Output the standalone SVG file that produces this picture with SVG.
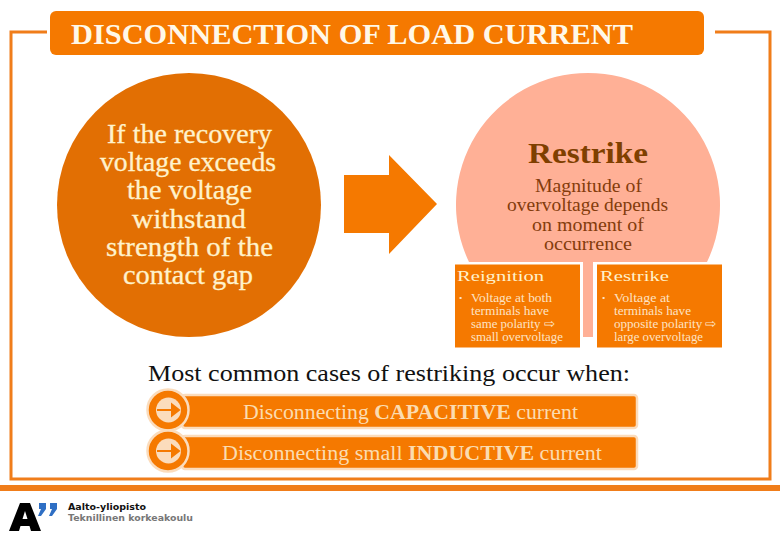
<svg xmlns="http://www.w3.org/2000/svg" width="780" height="540" viewBox="0 0 780 540">
<style>
text{font-family:"Liberation Serif","Times New Roman",serif}
.bar{fill:#f57900;stroke:#fbdcbc;stroke-width:2.500}
.circ{fill:#f57900;stroke:#fbdcbc;stroke-width:2.500}
.inner{fill:#fbdcbc}
.ar{fill:#f57900;stroke:#f57900;stroke-width:2}
.hd{fill:#fff2cc;font-size:15px}
.bd{fill:#fde3c4;font-size:12.500px}
.lc{fill:#fff2cc;font-size:27px;stroke:#fff2cc;stroke-width:.3px}
.rc{fill:#843c0c;font-size:18.500px}
.cs{fill:#fbdcb0;font-size:20px}
.box{fill:#f57900;stroke:#fff;stroke-width:2}
</style>
<rect width="780" height="540" fill="#fff"/>
<g id="frame"><path d="M47 32H11V479H770V32H715" fill="none" stroke="#f07d1a" stroke-width="3"/></g>
<g id="title"><rect x="50" y="11" width="654" height="44" rx="6" fill="#f57900"/>
<text x="71" y="44" font-size="30" font-weight="700" fill="#fff8e8" textLength="562" lengthAdjust="spacingAndGlyphs">DISCONNECTION OF LOAD CURRENT</text></g>
<g id="left-circle"><circle cx="189" cy="205" r="132" fill="#e26f03"/>
<text x="107" y="143" class="lc" textLength="165" lengthAdjust="spacingAndGlyphs">If the recovery</text>
<text x="100" y="171" class="lc" textLength="176" lengthAdjust="spacingAndGlyphs">voltage exceeds</text>
<text x="127" y="199" class="lc" textLength="125" lengthAdjust="spacingAndGlyphs">the voltage</text>
<text x="132" y="228" class="lc" textLength="114" lengthAdjust="spacingAndGlyphs">withstand</text>
<text x="106" y="256" class="lc" textLength="167" lengthAdjust="spacingAndGlyphs">strength of the</text>
<text x="123" y="284" class="lc" textLength="130" lengthAdjust="spacingAndGlyphs">contact gap</text></g>
<g id="arrow"><path d="M344 175H389V155L437 204L389 254V233H344Z" fill="#f57900"/></g>
<g id="right-circle"><path d="M469 262A132 132 0 1 1 707 262H593V337H583V262Z" fill="#ffb096"/>
<text x="528" y="163" font-size="30" font-weight="700" fill="#7f3f00" textLength="120" lengthAdjust="spacingAndGlyphs">Restrike</text>
<text x="535" y="192" class="rc" textLength="107" lengthAdjust="spacingAndGlyphs">Magnitude of</text>
<text x="507" y="211" class="rc" textLength="161" lengthAdjust="spacingAndGlyphs">overvoltage depends</text>
<text x="532" y="231" class="rc" textLength="112" lengthAdjust="spacingAndGlyphs">on moment of</text>
<text x="544" y="250" class="rc" textLength="88" lengthAdjust="spacingAndGlyphs">occurrence</text></g>
<g id="reignition"><rect x="454" y="263.500" width="127" height="85" class="box"/>
<text x="457" y="281" class="hd" textLength="87" lengthAdjust="spacingAndGlyphs">Reignition</text>
<rect x="459.500" y="297" width="2" height="2" fill="#fde3c4"/>
<text x="471" y="301.500" class="bd" textLength="81" lengthAdjust="spacingAndGlyphs">Voltage at both</text>
<text x="471" y="314.500" class="bd" textLength="78" lengthAdjust="spacingAndGlyphs">terminals have</text>
<text x="471" y="327.500" class="bd" textLength="84" lengthAdjust="spacingAndGlyphs">same polarity ⇨</text>
<text x="471" y="340.500" class="bd" textLength="92" lengthAdjust="spacingAndGlyphs">small overvoltage</text></g>
<g id="restrike"><rect x="596" y="263.500" width="127" height="85" class="box"/>
<text x="600" y="281" class="hd" textLength="69" lengthAdjust="spacingAndGlyphs">Restrike</text>
<rect x="602.500" y="297" width="2" height="2" fill="#fde3c4"/>
<text x="614" y="301.500" class="bd" textLength="56" lengthAdjust="spacingAndGlyphs">Voltage  at</text>
<text x="614" y="314.500" class="bd" textLength="77" lengthAdjust="spacingAndGlyphs">terminals have</text>
<text x="614" y="327.500" class="bd" textLength="103" lengthAdjust="spacingAndGlyphs">opposite polarity ⇨</text>
<text x="614" y="340.500" class="bd" textLength="89" lengthAdjust="spacingAndGlyphs">large overvoltage</text></g>
<text x="148" y="381" font-size="24" fill="#111" textLength="482" lengthAdjust="spacingAndGlyphs">Most common cases of restriking occur when:</text>
<g id="case-capacitive"><rect x="182" y="395" width="455" height="33" rx="3" class="bar"/>
<circle cx="168" cy="410" r="20.500" class="circ"/><circle cx="168.500" cy="410" r="12.500" class="inner"/>
<path d="M157 410H177M172 404.500L179 410L172 415.500Z" class="ar"/>
<text x="243" y="419" class="cs" textLength="335" lengthAdjust="spacingAndGlyphs">Disconnecting <tspan font-weight="700">CAPACITIVE</tspan> current</text></g>
<g id="case-inductive"><rect x="182" y="436" width="455" height="33" rx="3" class="bar"/>
<circle cx="168" cy="451" r="20.500" class="circ"/><circle cx="168.500" cy="451" r="12.500" class="inner"/>
<path d="M157 451H177M172 445.500L179 451L172 456.500Z" class="ar"/>
<text x="222" y="460" class="cs" textLength="380" lengthAdjust="spacingAndGlyphs">Disconnecting small <tspan font-weight="700">INDUCTIVE</tspan> current</text></g>
<g id="footer"><rect x="0" y="485" width="780" height="6" fill="#f07d1a"/>
<path d="M9 531L20 503H30L41 531H31L29.500 526H20.500L19 531ZM22.500 519H27.500L25 511Z" fill="#000" fill-rule="evenodd"/>
<path d="M39 503H46V509L41 516H38L41 509H39ZM50 503H57V509L52 516H49L52 509H50Z" fill="#2f6fc4"/>
<text x="68" y="510" style="font-family:'DejaVu Sans',sans-serif" font-size="9.500" font-weight="700" fill="#111" textLength="78" lengthAdjust="spacingAndGlyphs">Aalto-yliopisto</text>
<text x="68" y="520.500" style="font-family:'DejaVu Sans',sans-serif" font-size="9.500" font-weight="700" fill="#777" textLength="125" lengthAdjust="spacingAndGlyphs">Teknillinen korkeakoulu</text></g>
</svg>
